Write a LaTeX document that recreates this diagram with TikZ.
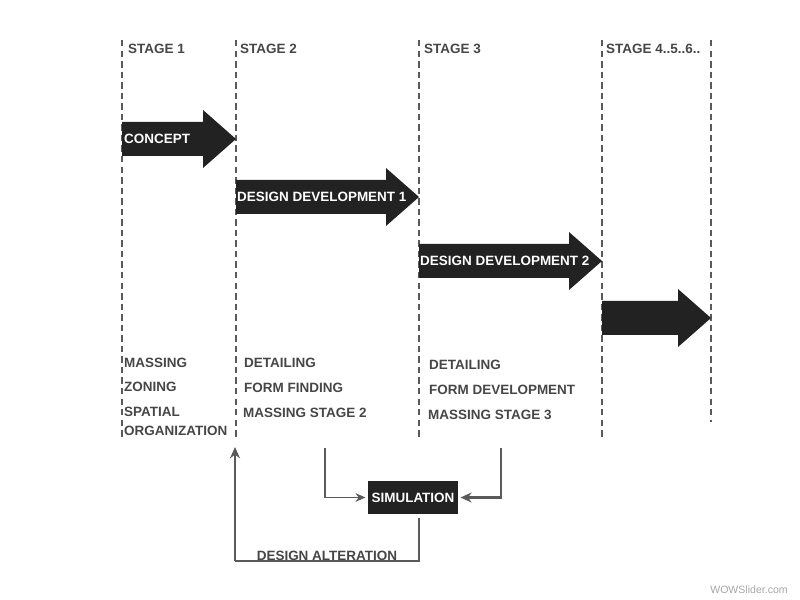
\documentclass[tikz,border=0pt]{standalone}
\usepackage{fontspec}
\setmainfont{Liberation Sans}
\usetikzlibrary{arrows.meta,positioning}
\definecolor{inkgray}{HTML}{464646}
\definecolor{arrowblack}{HTML}{222222}
\definecolor{linegray}{HTML}{5A5A5A}

\begin{document}
\begin{tikzpicture}[x=0.03cm,y=-0.03cm,
  every node/.style={font=\fontsize{11.5}{13}\selectfont\bfseries,inner sep=0pt},
  stagelabel/.style={text=inkgray,anchor=base west},
  listitem/.style={text=inkgray,anchor=base west},
  stageline/.style={linegray,line width=1.8pt,dash pattern=on 5.5pt off 3.5pt},
  arrowbody/.style={fill=arrowblack},
  arrowtext/.style={text=white,anchor=west},
  simbox/.style={fill=arrowblack,text=white,minimum width=2.7cm,minimum height=1cm},
  conn/.style={linegray,line width=1.1pt,-{Stealth[length=3mm,width=2.6mm]}},
  connthick/.style={linegray,line width=2pt,-{Stealth[length=3.3mm,width=3mm]}}]
\useasboundingbox (0,0) rectangle (800,600);
% stage dividers
\foreach \xl/\yb in {122/440,236/440,419/440,602/438,711/422}
  \draw[stageline] (\xl,40) -- (\xl,\yb);
\node[stagelabel] (st1) at (128,54) {STAGE 1};
\node[stagelabel] (st2) at (240,54) {STAGE 2};
\node[stagelabel] (st3) at (424,54) {STAGE 3};
\node[stagelabel] (st4) at (606,54) {STAGE 4..5..6..};
% block arrows
\foreach \xa/\xb/\yc in {122/236/139,236/419/197,419/602/261,602/711/318}
  \fill[arrowbody] (\xa,\yc-17) -- (\xb-33,\yc-17) -- (\xb-33,\yc-29) -- (\xb,\yc)
    -- (\xb-33,\yc+29) -- (\xb-33,\yc+17) -- (\xa,\yc+17) -- cycle;
\node[arrowtext] (concept) at (124,139) {CONCEPT};
\node[arrowtext] (dd1) at (237,197) {DESIGN DEVELOPMENT 1};
\node[arrowtext] (dd2) at (420,261) {DESIGN DEVELOPMENT 2};
% stage contents
\node[listitem] (m1) at (124,368) {MASSING};
\node[listitem] (z1) at (124,392) {ZONING};
\node[listitem] (sp1) at (124,417) {SPATIAL};
\node[listitem] (or1) at (124,436) {ORGANIZATION};
\node[listitem] (d2) at (244,368) {DETAILING};
\node[listitem] (f2) at (244,393) {FORM FINDING};
\node[listitem] (m2) at (243,418) {MASSING STAGE 2};
\node[listitem] (d3) at (429,370) {DETAILING};
\node[listitem] (f3) at (429,395) {FORM DEVELOPMENT};
\node[listitem] (m3) at (428,420) {MASSING STAGE 3};
% simulation loop
\node[simbox] (sim) at (413,497.5) {SIMULATION};
\coordinate (from2) at (325,448);
\coordinate (from3) at (501,448);
\coordinate (back) at (235,447);
\coordinate (corner) at (235,561);
\draw[conn] (from2) |- ([xshift=-2pt]sim.west);
\draw[connthick] (from3) |- ([xshift=2pt]sim.east);
\draw[linegray,line width=1.8pt] ([xshift=5pt,yshift=-3pt]sim.south) |- (corner)
  node[pos=0.75,anchor=south,text=inkgray,yshift=-1pt] (alt) {DESIGN ALTERATION};
\draw[linegray,line width=1.8pt,-{Stealth[length=3.4mm,width=3mm]}] (corner) -- (back);
\node[font=\fontsize{9}{11}\selectfont,text=gray!70] (wm) at (749,590) {WOWSlider.com};
\end{tikzpicture}
\end{document}
